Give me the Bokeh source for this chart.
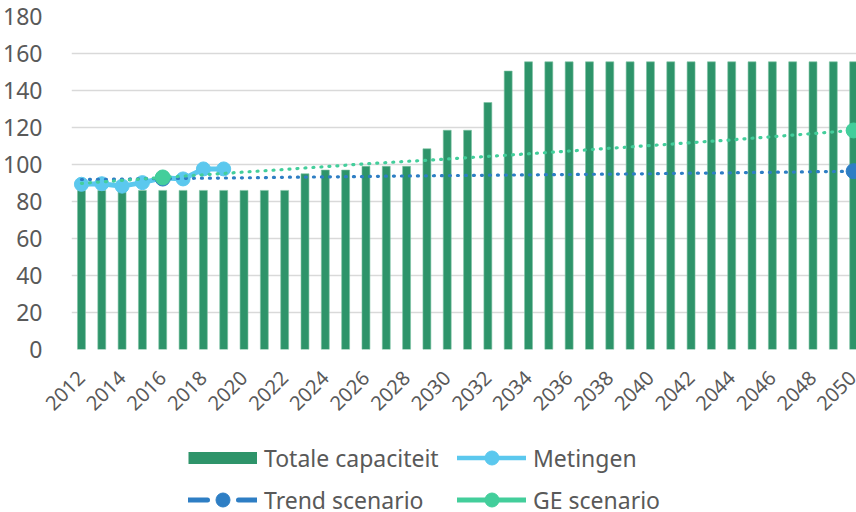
import math
from bokeh.plotting import figure
from bokeh.layouts import column
from bokeh.models import Range1d, FixedTicker, Legend, LegendItem, ColumnDataSource
from bokeh.embed import file_html
from bokeh.resources import INLINE

years = list(range(2012, 2051))
capaciteit = [86, 86, 86, 86, 86, 86, 86, 86, 86, 86, 86,
              95, 97, 97, 99, 99, 99, 108.5, 118.5, 118.5, 133.5, 150.5,
              155.5, 155.5, 155.5, 155.5, 155.5, 155.5, 155.5, 155.5, 155.5,
              155.5, 155.5, 155.5, 155.5, 155.5, 155.5, 155.5, 155.5]
meting_years = [2012, 2013, 2014, 2015, 2016, 2017, 2018, 2019]
metingen = [89.3, 89.6, 88.3, 90.2, 92.8, 92.2, 97.6, 97.6]
trend = [91.9, 92.0, 92.1, 92.3, 92.4, 92.5, 92.6, 92.7, 92.8, 92.9, 93.1,
         93.2, 93.3, 93.4, 93.5, 93.7, 93.8, 93.9, 94.0, 94.1, 94.2, 94.3,
         94.4, 94.5, 94.6, 94.7, 94.8, 94.9, 95.0, 95.2, 95.3, 95.4, 95.5,
         95.7, 95.8, 95.9, 96.1, 96.2, 96.4]
ge = [89.8, 90.6, 91.4, 92.2, 93.0, 93.7, 94.4, 95.2, 95.9, 96.6, 97.3,
      98.1, 98.8, 99.6, 100.4, 101.0, 101.7, 102.3, 103.0, 103.7, 104.4, 105.1,
      105.8, 106.5, 107.3, 108.0, 108.8, 109.5, 110.3, 111.0, 111.8, 112.6, 113.3,
      114.2, 115.0, 115.9, 116.7, 117.6, 118.4]
marker_years = [2016, 2050]
trend_markers = [92.4, 96.4]
ge_markers = [93.0, 118.4]
x_ticks = list(range(2012, 2051, 2))
y_ticks = [0, 20, 40, 60, 80, 100, 120, 140, 160, 180]
legend_labels = ["Totale capaciteit", "Metingen", "Trend scenario", "GE scenario"]

GREEN = "#2E946A"
LIGHTBLUE = "#5BC8EE"
BLUE = "#2E7EC4"
TEAL = "#43CE9B"
TEXT = "#595959"
FONT = "Noto Sans"

p = figure(frame_width=786, frame_height=333,
           x_range=Range1d(2011.51, 2050.19), y_range=Range1d(0, 180),
           output_backend="svg", toolbar_location=None,
           min_border_left=70, min_border_right=0, min_border_top=16, min_border_bottom=81)
p.outline_line_color = None
p.background_fill_color = "white"
p.border_fill_color = "white"

p.xgrid.grid_line_color = None
p.ygrid.grid_line_color = "#D9D9D9"
p.ygrid.grid_line_width = 1.5

p.yaxis.ticker = FixedTicker(ticks=y_ticks)
p.yaxis.axis_line_color = None
p.yaxis.major_tick_line_color = None
p.yaxis.minor_tick_line_color = None
p.yaxis.major_label_text_font = FONT
p.yaxis.major_label_text_font_size = "23px"
p.yaxis.major_label_text_color = TEXT
p.yaxis.major_label_standoff = 23

p.xaxis.ticker = FixedTicker(ticks=x_ticks)
p.xaxis.axis_line_color = None
p.xaxis.major_tick_line_color = None
p.xaxis.minor_tick_line_color = None
p.xaxis.major_label_text_font = FONT
p.xaxis.major_label_text_font_size = "20px"
p.xaxis.major_label_text_color = TEXT
p.xaxis.major_label_orientation = math.pi / 4
p.xaxis.major_label_standoff = 19

p.vbar(x=years, top=capaciteit, width=0.39, bottom=0,
       fill_color=GREEN, line_color="#7CC2A2", line_width=0.6)
p.line(meting_years, metingen, line_color=LIGHTBLUE, line_width=5, line_join="round")
p.scatter(meting_years, metingen, size=14, fill_color=LIGHTBLUE, line_color=LIGHTBLUE)
p.line(years, trend, line_color=BLUE, line_width=3.2, line_dash="1 7", line_cap="round")
p.scatter(marker_years, trend_markers, size=15, fill_color=BLUE, line_color=BLUE)
p.line(years, ge, line_color=TEAL, line_width=3.2, line_dash="1 7", line_cap="round")
p.scatter(marker_years, ge_markers, size=15, fill_color=TEAL, line_color=TEAL)

# legend panel (separate figure so the legend is not clipped)
q = figure(width=856, height=82, x_range=Range1d(0, 1), y_range=Range1d(0, 1),
           x_axis_type=None, y_axis_type=None, output_backend="svg",
           toolbar_location=None, min_border=0)
q.outline_line_color = None
q.background_fill_color = "white"
q.border_fill_color = "white"

NAN = float("nan")


def proxy():
    # legend-only proxy: a single undefined point, nothing is drawn in the plot
    return ColumnDataSource(dict(x=[NAN], y=[NAN]))


r_bar = q.line(x="x", y="y", source=proxy(), line_color=GREEN, line_width=12,
               line_cap="butt")
r_met_l = q.line(x="x", y="y", source=proxy(), line_color=LIGHTBLUE, line_width=4.5,
                 line_cap="round")
r_met_p = q.scatter(x="x", y="y", source=proxy(), size=14,
                    fill_color=LIGHTBLUE, line_color=LIGHTBLUE)
r_tr_l = q.line(x="x", y="y", source=proxy(), line_color=BLUE,
                line_width=5, line_dash="19 31", line_cap="round")
r_tr_p = q.scatter(x="x", y="y", source=proxy(), size=14,
                   fill_color=BLUE, line_color=BLUE)
r_ge_l = q.line(x="x", y="y", source=proxy(), line_color=TEAL,
                line_width=5, line_cap="round")
r_ge_p = q.scatter(x="x", y="y", source=proxy(), size=14,
                   fill_color=TEAL, line_color=TEAL)

legend = Legend(items=[
    LegendItem(label=legend_labels[0], renderers=[r_bar]),
    LegendItem(label=legend_labels[1], renderers=[r_met_l, r_met_p]),
    LegendItem(label=legend_labels[2], renderers=[r_tr_l, r_tr_p]),
    LegendItem(label=legend_labels[3], renderers=[r_ge_l, r_ge_p]),
], orientation="horizontal", ncols=2, location=(117, -5))
legend.label_text_font = FONT
legend.label_text_font_size = "23px"
legend.label_text_color = TEXT
legend.glyph_width = 69
legend.glyph_height = 35
legend.label_height = 30
legend.label_width = 186
legend.label_standoff = 7
legend.spacing = 7
legend.padding = 0
legend.margin = 0
legend.border_line_color = None
legend.background_fill_alpha = 0
q.add_layout(legend, "center")

layout = column(p, q, spacing=0)
open("out.html", "w").write(file_html(layout, INLINE))
